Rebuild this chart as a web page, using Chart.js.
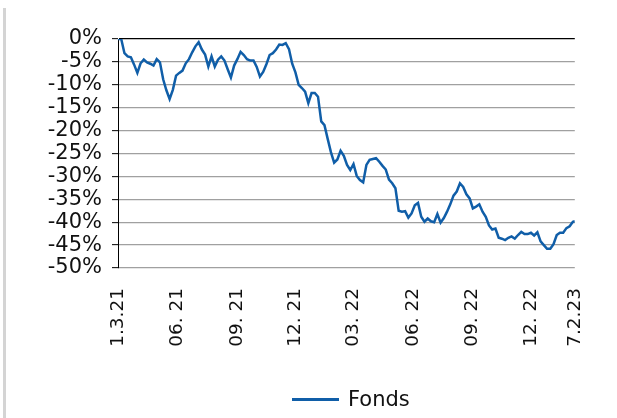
<!DOCTYPE html>
<html><head><meta charset="utf-8">
<script src="https://cdn.jsdelivr.net/npm/chart.js@4/dist/chart.umd.min.js"></script>
<style>
html,body{margin:0;padding:0;background:#fff;}
#wrap{position:relative;width:617px;height:418px;overflow:hidden;}
#frame{position:absolute;left:3px;top:8px;width:3px;height:410px;background:#d4d4d4;}
#legend{position:absolute;left:292px;top:386px;height:26px;display:flex;align-items:center;font:21px "DejaVu Sans",sans-serif;color:#111;}
#legend .sw{display:inline-block;width:47px;height:3px;margin-right:9px;}
canvas{position:absolute;left:0;top:0;}
</style>
</head><body>
<div id="wrap">
<canvas id="c" width="617" height="418"></canvas>
<div id="frame"></div>
<div id="legend"></div>
</div>
<script>
// Data: fund performance since 1.3.21, sampled every 5 days (last point 7.2.23)
const seriesName = 'Fonds';
const startDate = '2021-03-01';
const stepDays = 5;
const totalDays = 708;
const values = [
  0, 0, -3.1, -3.8, -4.0, -5.6, -7.4, -5.3, -4.5, -5.1,
  -5.4, -5.8, -4.4, -5.1, -8.8, -11.2, -13.1, -11.1, -8.0, -7.4,
  -6.9, -5.3, -4.4, -2.9, -1.6, -0.7, -2.3, -3.4, -6.0, -3.8,
  -6.0, -4.5, -3.8, -4.7, -6.6, -8.4, -5.8, -4.4, -2.8, -3.5,
  -4.4, -4.7, -4.7, -6.1, -8.2, -7.2, -5.5, -3.5, -3.1, -2.3,
  -1.2, -1.3, -0.9, -2.2, -5.4, -7.3, -10.0, -10.7, -11.5, -14.0,
  -11.8, -11.8, -12.6, -18.0, -18.8, -21.8, -24.7, -27.0, -26.3, -24.4,
  -25.5, -27.5, -28.6, -27.3, -29.9, -30.8, -31.3, -27.5, -26.4, -26.2,
  -26.0, -26.8, -27.7, -28.5, -30.7, -31.5, -32.6, -37.5, -37.7, -37.6,
  -39.0, -38.1, -36.3, -35.8, -38.8, -39.9, -39.2, -39.8, -40.0, -38.2,
  -40.1, -39.1, -37.7, -36.1, -34.2, -33.3, -31.5, -32.3, -33.9, -34.8,
  -37.0, -36.6, -36.1, -37.7, -38.8, -40.7, -41.6, -41.4, -43.4, -43.6,
  -43.9, -43.4, -43.1, -43.6, -42.8, -42.1, -42.6, -42.6, -42.3, -42.9,
  -42.2, -44.2, -45.0, -45.8, -45.8, -44.8, -42.8, -42.3, -42.3, -41.3,
  -40.9, -39.9, -39.8
];
// x-axis ticks (days since start) and their labels
const tickDays = [0, 92, 184, 275, 365, 457, 549, 640, 708];
const tickLabels = ['1.3.21', '06. 21', '09. 21', '12. 21', '03. 22', '06. 22', '09. 22', '12. 22', '7.2.23'];
// y-axis
const yMin = -50, yMax = 0, yStep = 5;

const lineColor = '#105ea8';
const points = values.map((v, i) => ({x: Math.min(i * stepDays, totalDays), y: v}));

const chart = new Chart(document.getElementById('c'), {
  type: 'line',
  data: { datasets: [{ label: seriesName, data: points, borderColor: lineColor, backgroundColor: lineColor,
    borderWidth: 2.5, pointRadius: 0, tension: 0, fill: false }] },
  options: {
    responsive: false, animation: false, devicePixelRatio: 1,
    layout: { padding: { top: 39, right: 34, left: 0, bottom: 0 } },
    plugins: { legend: { display: false }, tooltip: { enabled: false } },
    scales: {
      x: {
        type: 'linear', min: 0, max: totalDays,
        afterBuildTicks: s => { s.ticks = tickDays.map(v => ({value: v})); },
        afterFit: s => { s.height = 150; },
        grid: { display: false, drawTicks: false },
        border: { display: false },
        ticks: { autoSkip: false, minRotation: 90, maxRotation: 90, padding: 20,
          color: '#111', font: { family: 'DejaVu Sans', size: 18.5 },
          callback: (v) => { const i = tickDays.indexOf(v); return i >= 0 ? tickLabels[i] : ''; } }
      },
      y: {
        min: yMin, max: yMax,
        afterFit: s => { s.width = 118; },
        grid: { color: c => c.tick && c.tick.value === 0 ? '#000' : '#a0a0a0', lineWidth: 1.3,
          tickLength: 6, tickColor: '#000', tickWidth: 1 },
        border: { display: true, color: '#000', width: 1 },
        ticks: { stepSize: yStep, autoSkip: false, padding: 10, color: '#111', font: { family: 'DejaVu Sans', size: 21 },
          callback: v => v + '%' }
      }
    }
  }
});

// HTML legend built from the dataset
const lg = document.getElementById('legend');
chart.data.datasets.forEach(ds => {
  const sw = document.createElement('span'); sw.className = 'sw'; sw.style.background = ds.borderColor;
  const tx = document.createElement('span'); tx.textContent = ds.label;
  lg.appendChild(sw); lg.appendChild(tx);
});
</script>
</body></html>
